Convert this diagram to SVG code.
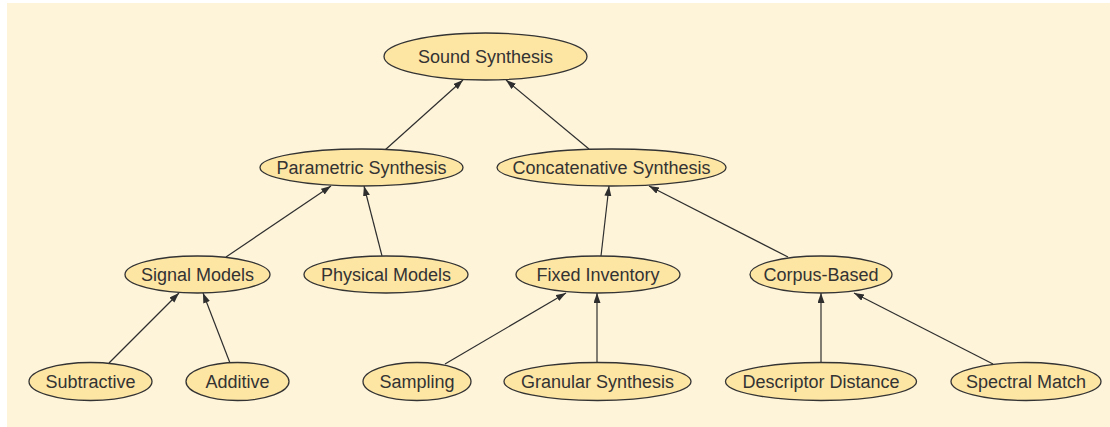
<svg xmlns="http://www.w3.org/2000/svg" width="1110" height="427" viewBox="0 0 1110 427">
  <style>
    .node ellipse { fill: #fde5a4; stroke: #333333; stroke-width: 1.3; }
    .node text { font-family: "Liberation Sans", Arial, sans-serif; font-size: 18px; fill: #333333; text-anchor: middle; }
    .edge { stroke: #2e2e2e; stroke-width: 1.2; fill: none; marker-end: url(#arrow); }
  </style>
  <defs>
    <marker id="arrow" markerUnits="userSpaceOnUse" markerWidth="11" markerHeight="8" refX="10" refY="3.5" orient="auto">
      <path d="M0,0 L10,3.5 L0,7 z" fill="#2e2e2e"/>
    </marker>
  </defs>

  <!-- panel background -->
  <rect x="7" y="3" width="1103" height="424" fill="#fef4da"/>

  <!-- connectors: child to parent -->
  <g id="edges">
    <line class="edge" x1="385" y1="150" x2="463" y2="80"/>
    <line class="edge" x1="589" y1="149" x2="506" y2="80"/>
    <line class="edge" x1="226" y1="257" x2="331" y2="186"/>
    <line class="edge" x1="382" y1="256" x2="364" y2="186"/>
    <line class="edge" x1="601" y1="256" x2="609" y2="186"/>
    <line class="edge" x1="788" y1="257" x2="649" y2="186"/>
    <line class="edge" x1="109" y1="363" x2="179" y2="293"/>
    <line class="edge" x1="230" y1="363" x2="203" y2="293"/>
    <line class="edge" x1="445" y1="364" x2="566" y2="293"/>
    <line class="edge" x1="597" y1="362" x2="597" y2="293"/>
    <line class="edge" x1="821" y1="362" x2="821" y2="293"/>
    <line class="edge" x1="993" y1="364" x2="854" y2="293"/>
  </g>

  <!-- level 0 -->
  <g id="sound-synthesis" class="node">
    <ellipse cx="485.5" cy="56.5" rx="101.5" ry="23.5"/>
    <text x="485.5" y="63">Sound Synthesis</text>
  </g>

  <!-- level 1 -->
  <g id="parametric-synthesis" class="node">
    <ellipse cx="361.5" cy="167.5" rx="101.5" ry="18.5"/>
    <text x="361.5" y="174">Parametric Synthesis</text>
  </g>
  <g id="concatenative-synthesis" class="node">
    <ellipse cx="611.5" cy="167.5" rx="114.5" ry="18.5"/>
    <text x="611.5" y="174">Concatenative Synthesis</text>
  </g>

  <!-- level 2 -->
  <g id="signal-models" class="node">
    <ellipse cx="197.5" cy="274.5" rx="72.5" ry="18.5"/>
    <text x="197.5" y="281">Signal Models</text>
  </g>
  <g id="physical-models" class="node">
    <ellipse cx="386" cy="274.5" rx="82" ry="18.5"/>
    <text x="386" y="281">Physical Models</text>
  </g>
  <g id="fixed-inventory" class="node">
    <ellipse cx="598" cy="274.5" rx="82" ry="18.5"/>
    <text x="598" y="281">Fixed Inventory</text>
  </g>
  <g id="corpus-based" class="node">
    <ellipse cx="821" cy="274.5" rx="71" ry="18.5"/>
    <text x="821" y="281">Corpus-Based</text>
  </g>

  <!-- level 3 -->
  <g id="subtractive" class="node">
    <ellipse cx="90.5" cy="381.5" rx="61.5" ry="19"/>
    <text x="90.5" y="388">Subtractive</text>
  </g>
  <g id="additive" class="node">
    <ellipse cx="237.5" cy="381.5" rx="51.5" ry="19"/>
    <text x="237.5" y="388">Additive</text>
  </g>
  <g id="sampling" class="node">
    <ellipse cx="417" cy="381.5" rx="54" ry="19"/>
    <text x="417" y="388">Sampling</text>
  </g>
  <g id="granular-synthesis" class="node">
    <ellipse cx="597.5" cy="381.5" rx="93.5" ry="19"/>
    <text x="597.5" y="388">Granular Synthesis</text>
  </g>
  <g id="descriptor-distance" class="node">
    <ellipse cx="821" cy="381.5" rx="95.5" ry="19"/>
    <text x="821" y="388">Descriptor Distance</text>
  </g>
  <g id="spectral-match" class="node">
    <ellipse cx="1026" cy="381.5" rx="75" ry="19"/>
    <text x="1026" y="388">Spectral Match</text>
  </g>
</svg>
